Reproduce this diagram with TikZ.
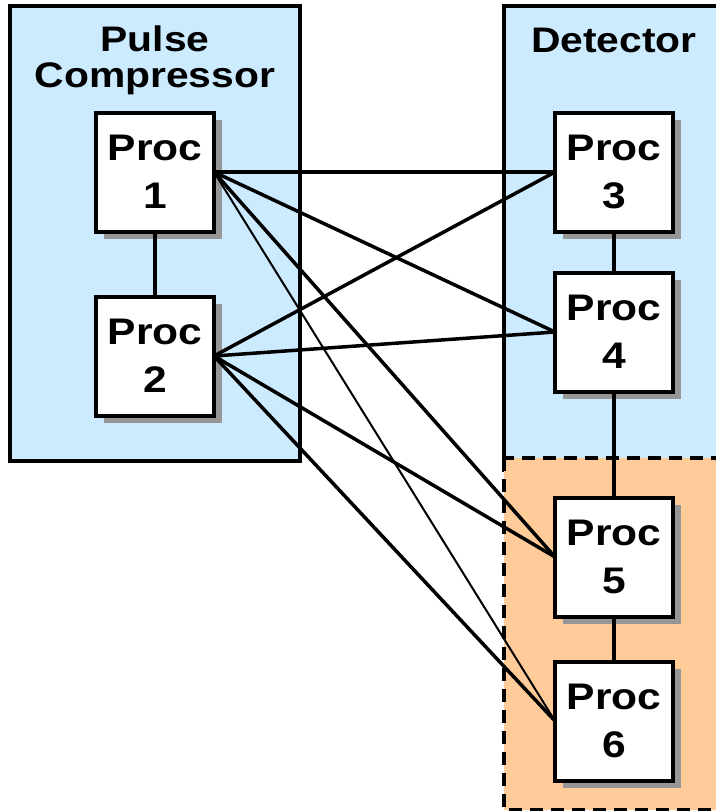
\documentclass[tikz,border=0pt]{standalone}
\usepackage{fontspec}
\setmainfont{Liberation Sans}[FakeStretch=1.15]
\usetikzlibrary{shadows}
\definecolor{regionblue}{HTML}{CCEBFF}
\definecolor{regionorange}{HTML}{FFCC99}
\definecolor{shadowgray}{HTML}{969696}

\begin{document}
\begin{tikzpicture}[x=1pt,y=-1pt,
  region/.style={draw=black, line width=4pt, fill=regionblue},
  spare/.style={draw=black, line width=4pt, fill=regionorange, dash pattern=on 13pt off 8pt},
  procbox/.style={draw=black, line width=4pt, fill=white,
    minimum width=118pt, minimum height=119pt, inner sep=0pt, outer sep=0pt,
    align=center, font=\fontsize{37}{48.5}\selectfont\bfseries,
    drop shadow={shadow xshift=7.5pt, shadow yshift=-7.5pt, fill=shadowgray, opacity=1}},
  title/.style={align=center, inner sep=0pt, font=\fontsize{35.5}{35.4}\selectfont\bfseries},
  link/.style={line width=3.5pt},
  thinlink/.style={line width=2pt}
]
\useasboundingbox (0,0) rectangle (715,811);

% processing groups
\draw[region] (10,6) rectangle (300,461);
\draw[region] (503.7,6) rectangle (745,470);
\draw[spare] (503.7,458) rectangle (745,810);

% group titles
\node[title] (tpc) at (155,60.5) {Pulse\\Compressor};
\node[title, anchor=base] (tdet) at (614,52) {Detector};

% processors
\node[procbox] (p1) at (155,172) {Proc\\1};
\node[procbox] (p2) at (155,356) {Proc\\2};
\node[procbox] (p3) at (614,172) {Proc\\3};
\node[procbox] (p4) at (614,332) {Proc\\4};
\node[procbox] (p5) at (614,557) {Proc\\5};
\node[procbox] (p6) at (614,721) {Proc\\6};

% chains inside the groups
\draw[link] (p1.south) -- (p2.north);
\draw[link] (p3.south) -- (p4.north);
\draw[link] (p4.south) -- (p5.north);
\draw[link] (p5.south) -- (p6.north);

% cross connections
\draw[link] (p1.east) -- (p3.west);
\draw[link] (p1.east) -- (p4.west);
\draw[link] (p1.east) -- (p5.west);
\draw[thinlink] (p1.east) -- (p6.west);
\draw[link] (p2.east) -- (p3.west);
\draw[link] (p2.east) -- (p4.west);
\draw[link] (p2.east) -- (p5.west);
\draw[link] (p2.east) -- (p6.west);
\end{tikzpicture}
\end{document}
